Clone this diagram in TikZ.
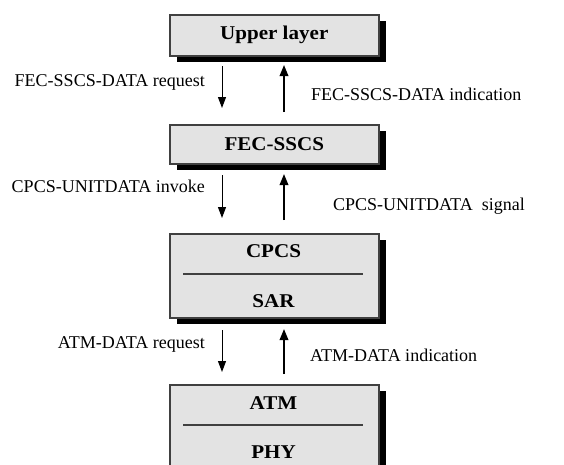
\documentclass[tikz,border=0pt]{standalone}
\usepackage{fontspec}
\setmainfont{Liberation Serif}
\usetikzlibrary{arrows.meta}
\definecolor{boxfill}{HTML}{E3E3E3}
\definecolor{boxline}{HTML}{404040}
\tikzset{
  layerbox/.style={draw=boxline, line width=1.5pt, fill=boxfill, minimum width=209pt, inner sep=0pt, anchor=north west},
  shadowbox/.style={fill=black, draw=none, minimum width=209pt, inner sep=0pt, anchor=north west},
  lbl/.style={font=\fontsize{18}{21}\selectfont, inner sep=0pt},
  blbl/.style={font=\fontsize{19.5}{22}\selectfont\bfseries, inner sep=0pt, xscale=1.08, transform shape},
  divider/.style={draw=boxline, line width=1.5pt},
  downarr/.style={line width=1pt, -{Triangle[length=11pt,width=8pt]}},
  uparr/.style={line width=1.8pt, -{Triangle[length=11pt,width=8.5pt]}},
}
\begin{document}
\begin{tikzpicture}[x=1pt,y=-1pt]
\useasboundingbox (0,0) rectangle (564,464);
% shadows
\node[shadowbox, minimum height=41pt] at (177,21) {};
\node[shadowbox, minimum height=39pt] at (177,131) {};
\node[shadowbox, minimum height=84pt] at (177,240) {};
\node[shadowbox, minimum height=90pt] at (177,391) {};
% boxes
\node[layerbox, minimum height=41pt] (upper) at (169,14) {};
\node[blbl] at (upper.center) {Upper layer};
\node[layerbox, minimum height=39pt] (fec) at (169,124) {};
\node[blbl] at (fec.center) {FEC-SSCS};
\node[layerbox, minimum height=84pt] (cpcs) at (169,233) {};
\node[blbl] (cpcst) at (273.5,251) {CPCS};
\node[blbl] (sart) at (273.5,301) {SAR};
\coordinate (d1a) at (183,274); \coordinate (d1b) at (363,274);
\draw[divider] (d1a) -- (d1b);
\node[layerbox, minimum height=90pt] (atm) at (169,384) {};
\node[blbl] (atmt) at (273.5,403) {ATM};
\node[blbl] (phyt) at (273.5,452) {PHY};
\coordinate (d2a) at (183,425); \coordinate (d2b) at (363,425);
\draw[divider] (d2a) -- (d2b);
% arrows pair 1
\coordinate (a1s) at (222,66); \coordinate (a1e) at (222,108);
\coordinate (b1s) at (284,112); \coordinate (b1e) at (284,65);
\draw[downarr] (a1s) -- (a1e);
\draw[uparr] (b1s) -- (b1e);
\node[lbl, anchor=east] at (205,82) {FEC-SSCS-DATA request};
\node[lbl, anchor=west] at (311,94) {FEC-SSCS-DATA indication};
% pair 2
\coordinate (a2s) at (222,175); \coordinate (a2e) at (222,218);
\coordinate (b2s) at (284,220); \coordinate (b2e) at (284,174);
\draw[downarr] (a2s) -- (a2e);
\draw[uparr] (b2s) -- (b2e);
\node[lbl, anchor=east] at (205,186) {CPCS-UNITDATA invoke};
\node[lbl, anchor=west] at (333,206) {CPCS-UNITDATA\ \ signal};
% pair 3
\coordinate (a3s) at (222,330); \coordinate (a3e) at (222,372);
\coordinate (b3s) at (284,374); \coordinate (b3e) at (284,329);
\draw[downarr] (a3s) -- (a3e);
\draw[uparr] (b3s) -- (b3e);
\node[lbl, anchor=east] at (205,344) {ATM-DATA request};
\node[lbl, anchor=west] at (310,355) {ATM-DATA indication};
\end{tikzpicture}
\end{document}
